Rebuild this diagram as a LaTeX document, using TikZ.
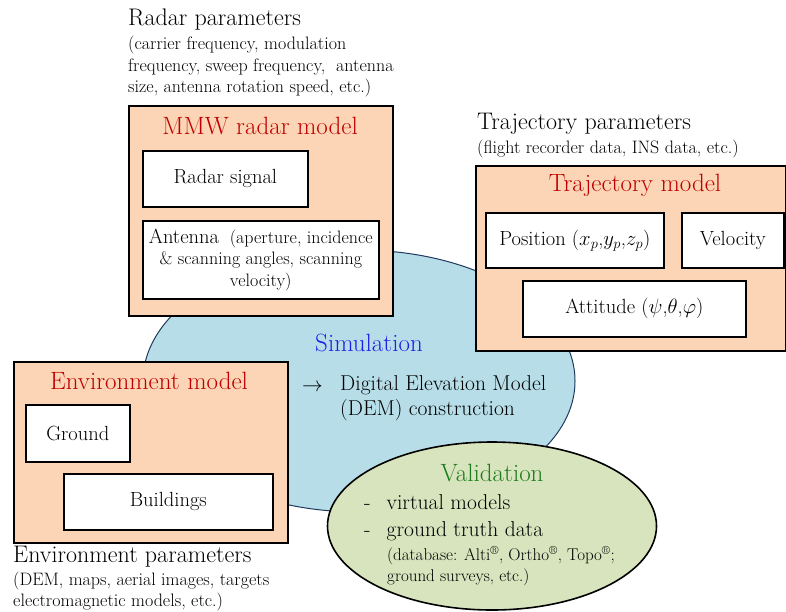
\documentclass[tikz,border=0pt]{standalone}
\usepackage{tikz}
\usetikzlibrary{arrows.meta,positioning,calc,shapes.geometric,fit}

\definecolor{peach}{HTML}{FBD5B5}
\definecolor{simblue}{HTML}{B7DEE8}
\definecolor{valgreen}{HTML}{D7E4BD}
\definecolor{titlered}{HTML}{C00000}
\definecolor{simtext}{HTML}{1F1FE6}
\definecolor{valtext}{HTML}{1E7B1E}
\definecolor{simedge}{HTML}{1F3A5F}

\newcommand{\headfont}{\fontsize{24}{28}\selectfont}
\newcommand{\notefont}{\fontsize{18}{21.5}\selectfont}
\newcommand{\titlefont}{\fontsize{25}{29}\selectfont}
\newcommand{\partfont}{\fontsize{20.5}{24}\selectfont}
\newcommand{\bodyfont}{\fontsize{21.5}{25}\selectfont}

\begin{document}
\begin{tikzpicture}[x=1pt,y=-1pt,
  modelbox/.style={draw,line width=1.6pt,fill=peach,anchor=north west,inner sep=0pt},
  partbox/.style={draw,line width=1.6pt,fill=white,anchor=north west,inner sep=0pt,font=\partfont},
  headtext/.style={anchor=north west,inner sep=0pt,font=\headfont},
  notetext/.style={anchor=north west,inner sep=0pt,align=left,font=\notefont},
  modeltitle/.style={inner sep=0pt,font=\titlefont,text=titlered}]

  \useasboundingbox (0,0) rectangle (786,611);

  % simulation ellipse (under everything)
  \node[ellipse,draw=simedge,line width=1pt,fill=simblue,minimum width=432,minimum height=262] (sim) at (359,381) {};
  \node[inner sep=0pt,font=\titlefont,text=simtext] (simtitle) at (369,343) {Simulation};
  \node[anchor=west,inner sep=0pt,font=\bodyfont] (arrow) at (302,388) {$\rightarrow$};
  \node[anchor=north west,inner sep=0pt,align=left,font=\bodyfont] (dem) at (340,375) {Digital Elevation Model\\(DEM) construction};

  % radar parameters + model
  \node[headtext] (radarhead) at (128,9) {Radar parameters};
  \node[notetext] (radarnote) at (128,36) {(carrier frequency, modulation\\frequency, sweep frequency,~ antenna\\size, antenna rotation speed, etc.)};
  \node[modelbox,minimum width=264,minimum height=210] (mmw) at (128,105) {};
  \node[modeltitle] (mmwtitle) at (260,126) {MMW radar model};
  \node[partbox,minimum width=165,minimum height=56] (signal) at (142,150) {Radar signal};
  \node[partbox,minimum width=236,minimum height=78,align=center,font=\notefont] (antenna) at (142,220)
    {{\partfont Antenna}~ (aperture, incidence\\\& scanning angles, scanning\\velocity)};

  % trajectory parameters + model
  \node[headtext] (trajhead) at (477,113) {Trajectory parameters};
  \node[notetext] (trajnote) at (477,140) {(flight recorder data, INS data, etc.)};
  \node[modelbox,minimum width=310,minimum height=185] (traj) at (475,165) {};
  \node[modeltitle] (trajtitle) at (635,185) {Trajectory model};
  \node[partbox,minimum width=178,minimum height=55] (position) at (485,212) {Position ($x_p$,$y_p$,$z_p$)};
  \node[partbox,minimum width=102,minimum height=55] (velocity) at (681,212) {Velocity};
  \node[partbox,minimum width=223,minimum height=56] (attitude) at (522,280) {Attitude ($\psi$,$\theta$,$\varphi$)};

  % environment model + parameters
  \node[modelbox,minimum width=274,minimum height=181] (env) at (13,361) {};
  \node[modeltitle] (envtitle) at (149,381) {Environment model};
  \node[partbox,minimum width=104,minimum height=57] (ground) at (25,404) {Ground};
  \node[partbox,minimum width=209,minimum height=56] (buildings) at (63,473) {Buildings};
  \node[headtext] (envhead) at (13,546) {Environment parameters};
  \node[notetext,font=\fontsize{18}{20.5}\selectfont] (envnote) at (13,572) {(DEM, maps, aerial images, targets\\electromagnetic models, etc.)};

  % validation ellipse
  \node[ellipse,draw,line width=1.6pt,fill=valgreen,minimum width=329,minimum height=168] (val) at (492,526) {};
  \node[inner sep=0pt,font=\titlefont,text=valtext] (valtitle) at (492,473) {Validation};
  \node[anchor=north west,inner sep=0pt,align=left,font=\fontsize{21.5}{27}\selectfont] (valitems) at (364,494)
    {-\hspace{16pt}virtual models\\-\hspace{16pt}ground truth data};
  \node[anchor=north west,inner sep=0pt,align=left,font=\fontsize{17}{21}\selectfont] (valnote) at (387,546)
    {(database: Alti\textsuperscript{\textregistered}, Ortho\textsuperscript{\textregistered}, Topo\textsuperscript{\textregistered};\\ground surveys, etc.)};

\end{tikzpicture}
\end{document}
